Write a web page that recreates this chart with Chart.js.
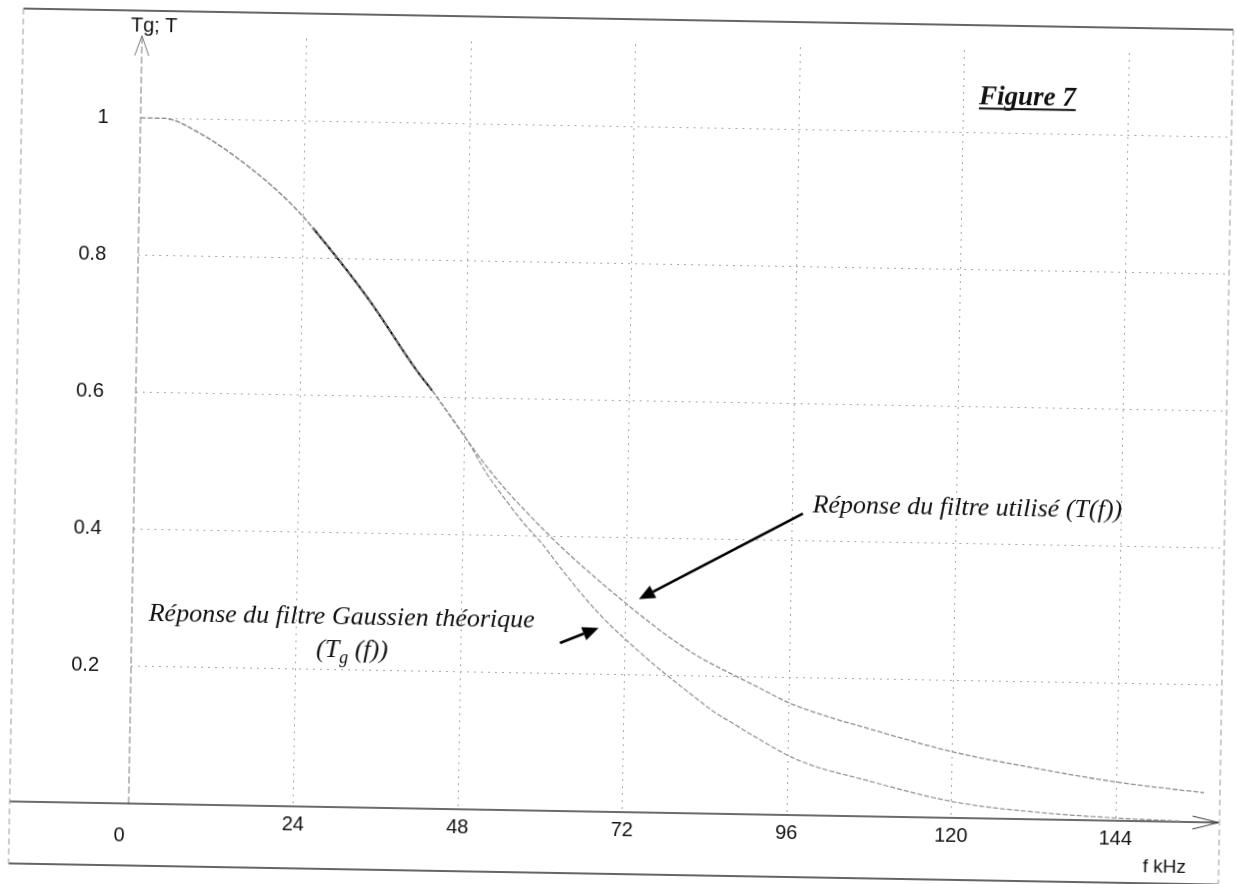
<!DOCTYPE html>
<html>
<head>
<meta charset="utf-8">
<title>Figure 7</title>
<script src="https://cdn.jsdelivr.net/npm/chart.js@4.4.1/dist/chart.umd.min.js"></script>
<style>
  html, body { margin: 0; padding: 0; background: #fff; overflow: hidden; }
  #wrap {
    width: 1237px; height: 884px;
    transform: rotate(1deg);
    transform-origin: 618px 442px;
  }
</style>
</head>
<body>
<div id="wrap"><canvas id="chart" width="1237" height="884"></canvas></div>
<script>
// Values (f in kHz)
const freqTg = [0, 3.3, 8.7, 16.1, 20.5, 23.5, 25.4, 33.6, 40.9, 43.2, 48.4, 51.4, 54.4, 56.8, 59.6, 62.6, 68.0, 74.0, 82.2, 85.4, 87.8, 90.7, 97.6, 107.4, 120.6, 131.7, 144.0, 153.6];
const valuesTg = [1.0, 1.0, 0.979, 0.93, 0.894, 0.865, 0.844, 0.743, 0.639, 0.61, 0.539, 0.49, 0.45, 0.42, 0.39, 0.352, 0.29, 0.235, 0.17, 0.147, 0.133, 0.116, 0.08, 0.053, 0.023, 0.011, 0.004, 0.001];

const freqT = [0, 3.3, 8.7, 16.1, 20.5, 23.5, 25.4, 33.6, 40.9, 43.2, 48.4, 51.4, 54.4, 56.8, 59.6, 63.0, 66.2, 70.7, 73.6, 77.9, 82.7, 88.5, 91.4, 96.2, 101.6, 107.0, 120.2, 131.3, 143.6, 156.8];
const valuesT = [1.0, 1.0, 0.979, 0.93, 0.894, 0.865, 0.844, 0.743, 0.639, 0.61, 0.539, 0.5, 0.465, 0.44, 0.412, 0.38, 0.352, 0.315, 0.292, 0.26, 0.229, 0.2, 0.186, 0.163, 0.145, 0.13, 0.096, 0.076, 0.057, 0.043];

const xTicks = [0, 24, 48, 72, 96, 120, 144];
const yTicks = [0, 0.2, 0.4, 0.6, 0.8, 1];
const xMax = 159;
const yMax = 1.12;

const toPoints = (xs, ys) => xs.map((f, i) => ({ x: f, y: ys[i] }));

const LIGHT = '#8f8f8f';
const DARK = '#000';

// the stretch of T(f) that came out dark on the scan
const isDark = ctx => ctx.p0.parsed.x >= 25 && ctx.p1.parsed.x <= 44;

const overlay = {
  id: 'overlay',
  beforeDatasetsDraw(chart) {
    const { ctx } = chart;
    const x = chart.scales.x, y = chart.scales.y;
    const x0 = x.getPixelForValue(0), y0 = y.getPixelForValue(0);
    const yTip = y.getPixelForValue(yMax);
    const xTip = x.getPixelForValue(xMax);
    ctx.save();

    // y axis (dashed) with open arrow
    ctx.strokeStyle = '#7a7a7a';
    ctx.lineWidth = 1;
    ctx.setLineDash([7, 3]);
    ctx.beginPath();
    ctx.moveTo(x0, y0);
    ctx.lineTo(x0, yTip);
    ctx.stroke();
    ctx.setLineDash([]);
    ctx.beginPath();
    ctx.moveTo(x0 - 7, yTip + 20);
    ctx.lineTo(x0, yTip);
    ctx.lineTo(x0 + 7, yTip + 20);
    ctx.stroke();

    // x axis (solid) with open arrow
    ctx.strokeStyle = '#3a3a3a';
    ctx.lineWidth = 1.6;
    ctx.beginPath();
    ctx.moveTo(16, y0);
    ctx.lineTo(xTip, y0);
    ctx.stroke();
    ctx.lineWidth = 1;
    ctx.beginPath();
    ctx.moveTo(xTip - 26, y0 - 6);
    ctx.lineTo(xTip, y0);
    ctx.lineTo(xTip - 26, y0 + 7);
    ctx.stroke();
    ctx.restore();
  },
  afterDraw(chart) {
    const { ctx } = chart;
    const x = chart.scales.x, y = chart.scales.y;
    const px = f => x.getPixelForValue(f);
    const py = v => y.getPixelForValue(v);
    ctx.save();

    // outer frame
    ctx.lineWidth = 1.6;
    ctx.strokeStyle = '#333';
    ctx.beginPath();
    ctx.moveTo(16, 19); ctx.lineTo(1226, 19);
    ctx.moveTo(16, 874); ctx.lineTo(1226, 874);
    ctx.stroke();
    ctx.lineWidth = 1;
    ctx.strokeStyle = '#999';
    ctx.setLineDash([6, 4]);
    ctx.beginPath();
    ctx.moveTo(16, 19); ctx.lineTo(16, 874);
    ctx.moveTo(1226, 19); ctx.lineTo(1226, 874);
    ctx.stroke();
    ctx.setLineDash([]);

    // axis titles
    ctx.fillStyle = '#111';
    ctx.textAlign = 'center';
    ctx.textBaseline = 'middle';
    ctx.font = '20px "Liberation Sans", Arial, sans-serif';
    ctx.fillText('Tg; T', px(1.75), py(1.134));
    ctx.font = '19px "Liberation Sans", Arial, sans-serif';
    ctx.fillText('f kHz', px(151.2), py(-0.067));
    ctx.font = '20px "Liberation Sans", Arial, sans-serif';
    ctx.fillText('0', px(-1.3), py(-0.047));

    // Figure 7, bold italic underlined
    ctx.textBaseline = 'alphabetic';
    ctx.font = 'italic bold 27px "Liberation Serif", "Times New Roman", serif';
    const figX = px(129.3), figY = py(1.041);
    ctx.fillText('Figure 7', figX, figY);
    const fw = ctx.measureText('Figure 7').width;
    ctx.fillRect(figX - fw / 2, figY + 3, fw, 2);

    // annotation texts
    const serif = sz => 'italic ' + sz + 'px "Liberation Serif", "Times New Roman", serif';
    ctx.font = serif(26);
    ctx.textAlign = 'center';
    ctx.fillText('Réponse du filtre Gaussien théorique', px(30.6), py(0.267));

    // (T_g (f)) with subscript
    const parts = [['(T', 26, 0], ['g', 18, 6], [' (f))', 26, 0]];
    let total = 0;
    parts.forEach(p => { ctx.font = serif(p[1]); total += ctx.measureText(p[0]).width; });
    let cx = px(32.2) - total / 2;
    const by = py(0.219);
    ctx.textAlign = 'left';
    parts.forEach(p => {
      ctx.font = serif(p[1]);
      ctx.fillText(p[0], cx, by + p[2]);
      cx += ctx.measureText(p[0]).width;
    });

    ctx.font = serif(26);
    ctx.fillText('Réponse du filtre utilisé (T(f))', px(99.0), py(0.442));

    // arrows pointing at the curves
    const arrow = (f1, v1, f2, v2) => {
      const x1 = px(f1), y1 = py(v1), x2 = px(f2), y2 = py(v2);
      const a = Math.atan2(y2 - y1, x2 - x1);
      const len = 16, half = 7;
      const bx = x2 - len * Math.cos(a), byy = y2 - len * Math.sin(a);
      ctx.strokeStyle = '#000';
      ctx.lineWidth = 2.6;
      ctx.beginPath();
      ctx.moveTo(x1, y1);
      ctx.lineTo(bx, byy);
      ctx.stroke();
      ctx.beginPath();
      ctx.moveTo(x2, y2);
      ctx.lineTo(bx + half * Math.sin(a), byy - half * Math.cos(a));
      ctx.lineTo(bx - half * Math.sin(a), byy + half * Math.cos(a));
      ctx.closePath();
      ctx.fillStyle = '#000';
      ctx.fill();
    };
    arrow(97.6, 0.44, 73.9, 0.311);
    arrow(62.5, 0.245, 68.1, 0.268);

    ctx.restore();
  }
};

const gridColor = ctx => (ctx.tick && ctx.tick.value === 0) ? 'rgba(0,0,0,0)' : '#a6a6a6';

new Chart(document.getElementById('chart'), {
  type: 'line',
  data: {
    datasets: [
      {
        label: 'Tg(f)',
        data: toPoints(freqTg, valuesTg),
        borderColor: LIGHT,
        borderWidth: 1.2,
        borderDash: [5, 2],
        pointRadius: 0,
        cubicInterpolationMode: 'monotone',
        fill: false
      },
      {
        label: 'T(f)',
        data: toPoints(freqT, valuesT),
        borderColor: LIGHT,
        borderWidth: 1.3,
        borderDash: [5, 2],
        pointRadius: 0,
        cubicInterpolationMode: 'monotone',
        fill: false,
        segment: {
          borderColor: ctx => isDark(ctx) ? DARK : LIGHT,
          borderWidth: ctx => isDark(ctx) ? 2 : 1.3,
          borderDash: ctx => isDark(ctx) ? [1, 0] : [5, 2]
        }
      }
    ]
  },
  options: {
    responsive: false,
    animation: false,
    layout: { padding: { top: 44, right: 12, left: 0, bottom: 0 } },
    plugins: {
      legend: { display: false },
      tooltip: { enabled: false }
    },
    scales: {
      x: {
        type: 'linear',
        min: 0,
        max: xMax,
        afterFit: scale => { scale.height = 72; },
        afterBuildTicks: scale => { scale.ticks = xTicks.map(v => ({ value: v })); },
        border: { display: false, dash: [2, 5] },
        grid: { color: gridColor, lineWidth: 1, drawTicks: false },
        ticks: {
          padding: 6,
          color: '#111',
          font: { family: '"Liberation Sans", Arial, sans-serif', size: 20 },
          callback: v => v === 0 ? '' : String(v)
        }
      },
      y: {
        type: 'linear',
        min: 0,
        max: yMax,
        afterFit: scale => { scale.width = 135; },
        afterBuildTicks: scale => { scale.ticks = yTicks.map(v => ({ value: v })); },
        border: { display: false, dash: [2, 5] },
        grid: { color: gridColor, lineWidth: 1, drawTicks: false },
        ticks: {
          padding: 32,
          color: '#111',
          font: { family: '"Liberation Sans", Arial, sans-serif', size: 20 },
          callback: v => v === 0 ? '' : String(+v.toFixed(1))
        }
      }
    }
  },
  plugins: [overlay]
});
</script>
</body>
</html>
